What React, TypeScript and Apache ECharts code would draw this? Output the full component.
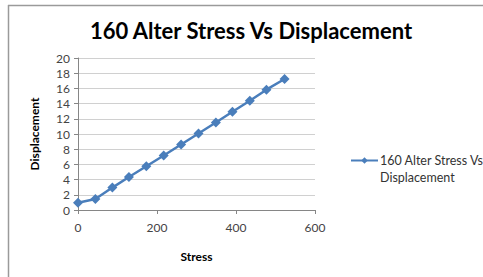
import React, { useEffect, useRef } from "react";
import * as echarts from "echarts";

const stress = [0, 44, 87, 129, 173, 217, 261, 305, 349, 391, 435, 477, 523];
const displacement = [0.96, 1.45, 2.95, 4.35, 5.76, 7.17, 8.62, 10.07, 11.52, 12.93, 14.38, 15.83, 17.24];
const seriesName = "160 Alter Stress Vs Displacement";
const titleText = "160 Alter Stress Vs Displacement";

const FONT = "Lato";

export default function App() {
  const ref = useRef<HTMLDivElement>(null);
  useEffect(() => {
    if (!ref.current) return;
    const chart = echarts.init(ref.current, null, { renderer: "svg" });
    chart.setOption({
      animation: false,
      backgroundColor: "#fff",
      textStyle: { fontFamily: FONT },
      title: {
        text: titleText,
        left: 246,
        textAlign: "center",
        top: 14,
        textStyle: { fontSize: 22, fontWeight: "bold", color: "#000", fontFamily: FONT },
      },
      grid: { left: 78, right: 168, top: 58, bottom: 67 },
      xAxis: {
        type: "value",
        min: 0,
        max: 600,
        interval: 200,
        name: "Stress",
        nameLocation: "middle",
        nameGap: 40,
        nameTextStyle: { fontWeight: "bold", fontSize: 12, color: "#000" },
        axisLine: { lineStyle: { color: "#868686" } },
        axisTick: { show: true, length: 4, lineStyle: { color: "#868686" } },
        axisLabel: { fontSize: 12, color: "#444", margin: 11 },
        splitLine: { show: false },
      },
      yAxis: {
        type: "value",
        min: 0,
        max: 20,
        interval: 2,
        name: "Displacement",
        nameLocation: "middle",
        nameGap: 38,
        nameTextStyle: { fontWeight: "bold", fontSize: 12, color: "#000" },
        axisLine: { show: true, lineStyle: { color: "#868686" } },
        axisTick: { show: true, length: 4, lineStyle: { color: "#868686" } },
        axisLabel: { fontSize: 12, color: "#444", margin: 8 },
        splitLine: { show: true, lineStyle: { color: "#d0d0d0" } },
      },
      legend: {
        left: 345,
        top: 130,
        itemWidth: 27,
        itemHeight: 8,
        itemGap: 4,
        formatter: () => " \n160 Alter Stress Vs\nDisplacement",
        textStyle: { fontSize: 12.5, color: "#333", lineHeight: 17, padding: [0, 0, 0, -3] },
        data: [seriesName],
      },
      series: [
        {
          name: seriesName,
          type: "line",
          data: stress.map((s, i) => [s, displacement[i]]),
          symbol: "diamond",
          symbolSize: 10,
          lineStyle: { color: "#4a7ebb", width: 2.5 },
          itemStyle: { color: "#4a7ebb" },
        },
      ],
      graphic: [
        { type: "line", shape: { x1: 8.5, y1: 5, x2: 8.5, y2: 277 }, style: { stroke: "#9a9a9a", lineWidth: 1.5 } },
        { type: "line", shape: { x1: 8, y1: 5.5, x2: 483, y2: 5.5 }, style: { stroke: "#9a9a9a", lineWidth: 1.5 } },
      ],
    });
    return () => chart.dispose();
  }, []);
  return <div ref={ref} style={{ position: "fixed", left: 0, top: 0, width: 483, height: 277 }} />;
}
